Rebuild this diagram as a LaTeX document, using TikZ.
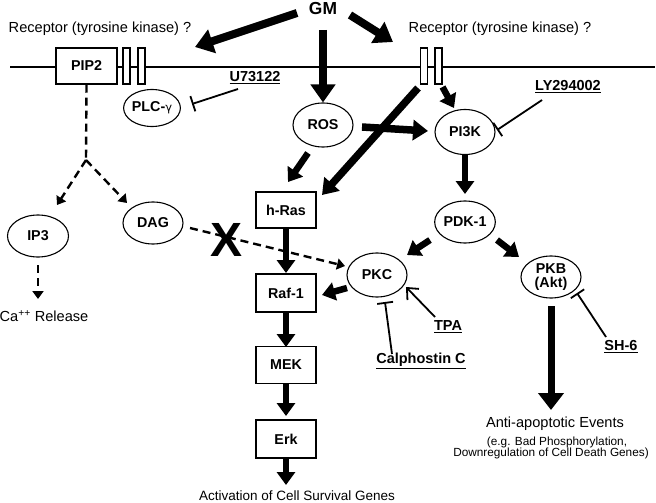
\documentclass[tikz,border=0pt]{standalone}
\usepackage{fontspec}
\setmainfont{Liberation Sans}
\usetikzlibrary{arrows.meta,shapes.geometric,calc}
\begin{document}
\begin{tikzpicture}[x=1pt,y=-1pt,
  lbl/.style={inner sep=0pt,font=\fontsize{14.6}{16}\selectfont},
  small/.style={inner sep=0pt,font=\fontsize{11.8}{13}\selectfont},
  ell/.style={ellipse,draw,line width=1.1pt,minimum width=60pt,minimum height=43pt,inner sep=0pt,font=\fontsize{14.3}{14.3}\selectfont\bfseries,align=center},
  boxn/.style={rectangle,draw,line width=1.1pt,minimum width=60pt,minimum height=37pt,inner sep=0pt,font=\fontsize{14.3}{14.3}\selectfont\bfseries},
  recp/.style={rectangle,draw,line width=1.1pt,fill=white,minimum width=7pt,minimum height=36pt,inner sep=0pt},
  drug/.style={inner sep=0pt,font=\fontsize{14.5}{15}\selectfont\bfseries},
  bigarrow/.style={line width=8pt,-{Triangle[width=24pt,length=18pt]}},
  midarrow/.style={line width=6.5pt,-{Triangle[width=18pt,length=13pt]}},
  dasharrow/.style={line width=2.4pt,dash pattern=on 8pt off 5pt,-{Triangle[width=11pt,length=8pt]}},
  inhib/.style={line width=1.8pt,-{Bar[width=16pt,line width=1.8pt]}},
  openarrow/.style={line width=1.8pt,-{Straight Barb[length=9pt,width=16pt,line width=1.8pt]}}
]
\useasboundingbox (0,0) rectangle (656,503);
% membrane
\coordinate (mL) at (10,67);
\coordinate (mR) at (655,67);
\draw[line width=2.2pt] (mL) -- (mR);
% labels
\node[inner sep=0pt,font=\fontsize{17.4}{18}\selectfont\bfseries] (GM) at (323,9) {GM};
\node[lbl] (recL) at (100,29) {Receptor (tyrosine kinase) ?};
\node[lbl] (recR) at (500,29) {Receptor (tyrosine kinase) ?};
% membrane elements
\node[boxn,minimum width=61pt,minimum height=36pt,fill=white] (PIP2) at (86.5,66) {PIP2};
\node[recp] (rL1) at (126.5,66) {};
\node[recp] (rL2) at (141.5,66) {};
\node[recp] (rR1) at (424,66) {};
\node[recp] (rR2) at (438.5,66) {};
% ellipses
\node[ell,minimum width=56pt,minimum height=37pt] (PLC) at (152,108) {PLC-{\fontspec{DejaVu Sans}\mdseries\fontsize{11.5}{12}\selectfont γ}};
\node[ell,minimum height=44pt] (ROS) at (323,125) {ROS};
\node[ell,minimum height=45pt] (PI3K) at (465,132) {PI3K};
\node[ell,minimum height=42pt] (PDK) at (465,222) {PDK-1};
\node[ell,minimum height=44pt] (PKC) at (377,275) {PKC};
\node[ell,minimum height=42pt] (PKB) at (551,277) {PKB\\[-1pt](Akt)};
\node[ell,minimum width=61pt,minimum height=42pt] (IP3) at (38,236) {IP3};
\node[ell,minimum height=42pt] (DAG) at (153,223) {DAG};
% boxes
\node[boxn,minimum height=36pt] (hRas) at (286,210) {h-Ras};
\node[boxn,minimum height=38pt] (Raf) at (286,293) {Raf-1};
\node[boxn] (MEK) at (286,365) {MEK};
\node[boxn,minimum height=38pt] (Erk) at (286,439) {Erk};
% drugs
\node[drug] (U73) at (255,78) {\underline{U73122}};
\node[drug] (LY) at (568,87) {\underline{LY294002}};
\node[drug] (TPA) at (448,327) {\underline{TPA}};
\node[drug] (Calph) at (421,361) {\underline{Calphostin C}};
\node[drug] (SH6) at (621,347) {\underline{SH-6}};
% other texts
\node[lbl] (Ca) at (44,316) {Ca\textsuperscript{++} Release};
\node[inner sep=0pt,font=\fontsize{48}{48}\selectfont\bfseries] (X) at (227,240) {X};
\node[inner sep=0pt,font=\fontsize{13.5}{15}\selectfont] (Act) at (297,496) {Activation of Cell Survival Genes};
\node[lbl] (Anti) at (555,424) {Anti-apoptotic Events};
\node[small] (eg) at (557,442) {(e.g. Bad Phosphorylation,};
\node[small] (down) at (551,453) {Downregulation of Cell Death Genes)};
% GM arrows
\coordinate (gmLtip) at (195,47);
\coordinate (gmRtip) at (393,42);
\draw[bigarrow] ($(GM)+(-26,4)$) -- (gmLtip);
\draw[bigarrow] ($(GM)+(27,6)$) -- (gmRtip);
\draw[bigarrow] ($(GM)+(0,21)$) -- (ROS.north);
% receptor arrows
\draw[midarrow] ($(rR2)+(4,21)$) -- ($(PI3K)+(-11,-24)$);
\draw[line width=7.5pt,-{Triangle[width=20pt,length=15pt]}] ($(rR1)+(-6,22)$) -- ($(hRas)+(36,-15)$);
\draw[line width=7.5pt,-{Triangle[width=20pt,length=15pt]}] ($(ROS)+(39,2)$) -- ($(PI3K)+(-37,-1)$);
\draw[midarrow] ($(ROS)+(-15,28)$) -- ($(hRas)+(2,-28)$);
% kinase cascade
\draw[midarrow] (hRas.south) -- ($(Raf)+(0,-20)$);
\draw[midarrow] (Raf.south) -- ($(MEK)+(0,-18)$);
\draw[midarrow] (MEK.south) -- ($(Erk)+(0,-23)$);
\draw[midarrow] (Erk.south) -- ($(Act)+(-11,-11)$);
\draw[midarrow] (PI3K.south) -- ($(PDK)+(0,-28)$);
\draw[midarrow] ($(PDK)+(-35,18)$) -- ($(PKC)+(30,-20)$);
\draw[midarrow] ($(PDK)+(32,18)$) -- ($(PKB)+(-32,-20)$);
\draw[midarrow] ($(PKC)+(-30,13)$) -- ($(Raf)+(36,2)$);
\draw[line width=7pt,-{Triangle[width=25pt,length=17pt]}] ($(PKB)+(0,29)$) -- ($(Anti)+(-4,-14)$);
% inhibitors
\draw[inhib] ($(U73)+(-17,11)$) -- ($(PLC)+(40,-4)$);
\draw[inhib] ($(LY)+(-26,13)$) -- ($(PI3K)+(32,-2)$);
\draw[inhib] ($(Calph)+(-29,-7)$) -- ($(PKC)+(8,27)$);
\draw[openarrow] ($(TPA)+(-13,-10)$) -- ($(PKC)+(29,12)$);
\draw[inhib] ($(SH6)+(-15,-10)$) -- ($(PKB)+(26,16)$);
% dashed lipid branch
\coordinate (apex) at (86,160);
\draw[line width=2.4pt,dash pattern=on 8pt off 5pt] (PIP2.south) -- (apex);
\draw[dasharrow] (apex) -- ($(IP3)+(19,-31)$);
\draw[dasharrow] (apex) -- ($(DAG)+(-26,-20)$);
\draw[dasharrow] ($(IP3)+(0,29)$) -- ($(Ca)+(-6,-17)$);
\draw[dasharrow] ($(DAG)+(37,5)$) -- ($(PKC)+(-32,-9)$);
\end{tikzpicture}
\end{document}
